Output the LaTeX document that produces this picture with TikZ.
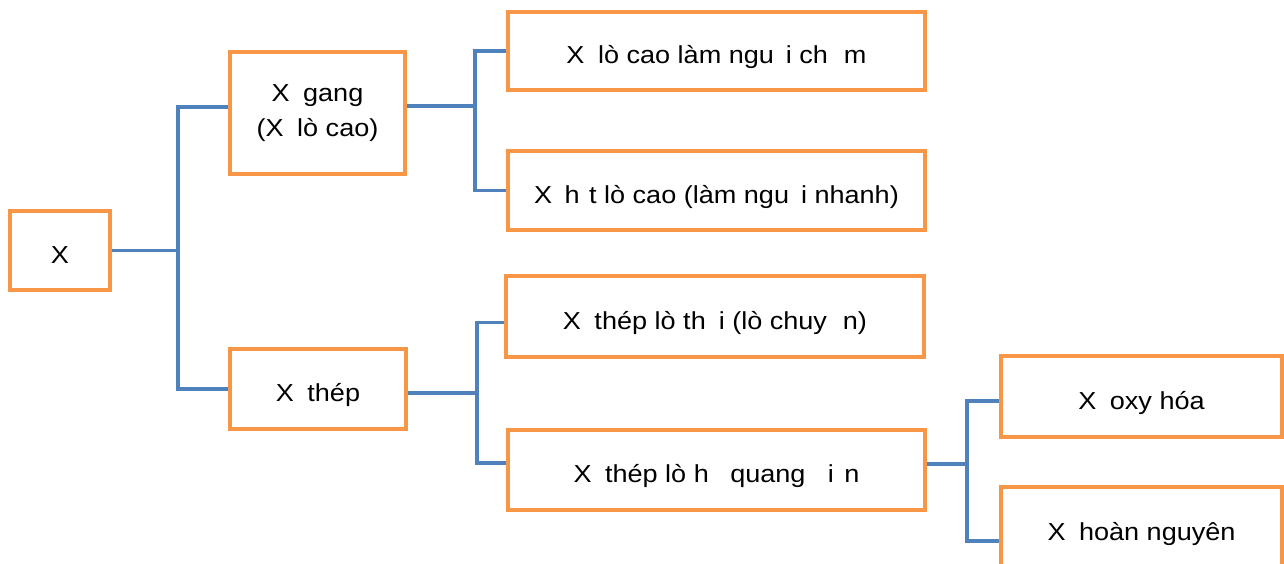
\documentclass[tikz,border=0pt]{standalone}
\usepackage{fontspec}
\setmainfont[FakeStretch=1.1]{Liberation Sans}
\usetikzlibrary{calc}
\definecolor{boxorange}{HTML}{F79646}
\definecolor{linkblue}{HTML}{4F81BD}
% empty gap left by an unprinted glyph, measured in drawing units
\newdimen\gpunit
\gpunit=0.567pt
\newcommand\gp[1]{\hspace*{#1\gpunit}}
\pgfdeclarelayer{bg}
\pgfsetlayers{bg,main}
\begin{document}
\begin{tikzpicture}[x=0.02cm,y=-0.02cm,
  box/.style={draw=boxorange, line width=2.4pt, fill=white, inner sep=0pt,
    outer sep=0pt, align=center, font=\fontsize{14}{19.8}\selectfont},
  oneline/.style={text height=14.5pt, text depth=0pt},
  link/.style={draw=linkblue, line width=2pt}]
\useasboundingbox (0,0) rectangle (1284,564);

% boxes
\node[box, oneline, minimum width=2.0cm,  minimum height=1.58cm] (X)    at (60,250.5)    {X};
\node[box, minimum width=3.5cm,  minimum height=2.44cm] (gang) at (317.5,113)   {X\gp{6} gang\\(X\gp{6} lò cao)};
\node[box, oneline, minimum width=3.52cm, minimum height=1.6cm]  (thep) at (318,389)     {X\gp{6} thép};
\node[box, oneline, minimum width=8.34cm, minimum height=1.56cm] (b1)   at (716.5,51)    {X\gp{6} lò cao làm ngu\gp{12}i ch\gp{16}m};
\node[box, oneline, minimum width=8.34cm, minimum height=1.58cm] (b2)   at (716.5,190.5) {X\gp{5} h\gp{9.4}t lò cao (làm ngu\gp{12}i nhanh)};
\node[box, oneline, minimum width=8.36cm, minimum height=1.62cm] (b3)   at (715,316.5)   {X\gp{6} thép lò th\gp{13}i (lò chuy\gp{16}n)};
\node[box, oneline, minimum width=8.34cm, minimum height=1.6cm]  (b4)   at (716.5,470)   {X\gp{6} thép lò h\gp{14} quang \gp{15}i\gp{10.4}n};
\node[box, oneline, minimum width=5.62cm, minimum height=1.62cm] (b5)   at (1141.5,396.5){X\gp{6} oxy hóa};
\node[box, oneline, minimum width=5.62cm, minimum height=1.62cm] (b6)   at (1141.5,527.5){X\gp{6} hoàn nguyên};

% junction columns
\coordinate (t1) at (178,0);
\coordinate (t2) at (475,0);
\coordinate (t3) at (477,0);
\coordinate (t4) at (967,0);

% stub points on the box sides
\coordinate (gangL) at ($(gang.west)+(0,-6)$);
\coordinate (gangR) at ($(gang.east)+(0,-7)$);
\coordinate (thepR) at ($(thep.east)+(0,4)$);
\coordinate (b3L)   at ($(b3.west)+(0,6)$);
\coordinate (b4L)   at ($(b4.west)+(0,-7)$);
\coordinate (b4R)   at ($(b4.east)+(0,-6)$);
\coordinate (b5L)   at ($(b5.west)+(0,4.5)$);
\coordinate (b6L)   at ($(b6.west)+(0,13.5)$);

\begin{pgfonlayer}{bg}
  \draw[link] (X.east) -- (X.east -| t1);
  \draw[link] (gangL) -| (t1 |- thep.west) -- (thep.west);

  \draw[link] (gangR) -- (gangR -| t2);
  \draw[link] (b1.west) -| (t2 |- b2.west) -- (b2.west);

  \draw[link] (thepR) -- (thepR -| t3);
  \draw[link] (b3L) -| (t3 |- b4L) -- (b4L);

  \draw[link] (b4R) -- (b4R -| t4);
  \draw[link] (b5L) -| (t4 |- b6L) -- (b6L);
\end{pgfonlayer}
\end{tikzpicture}
\end{document}
